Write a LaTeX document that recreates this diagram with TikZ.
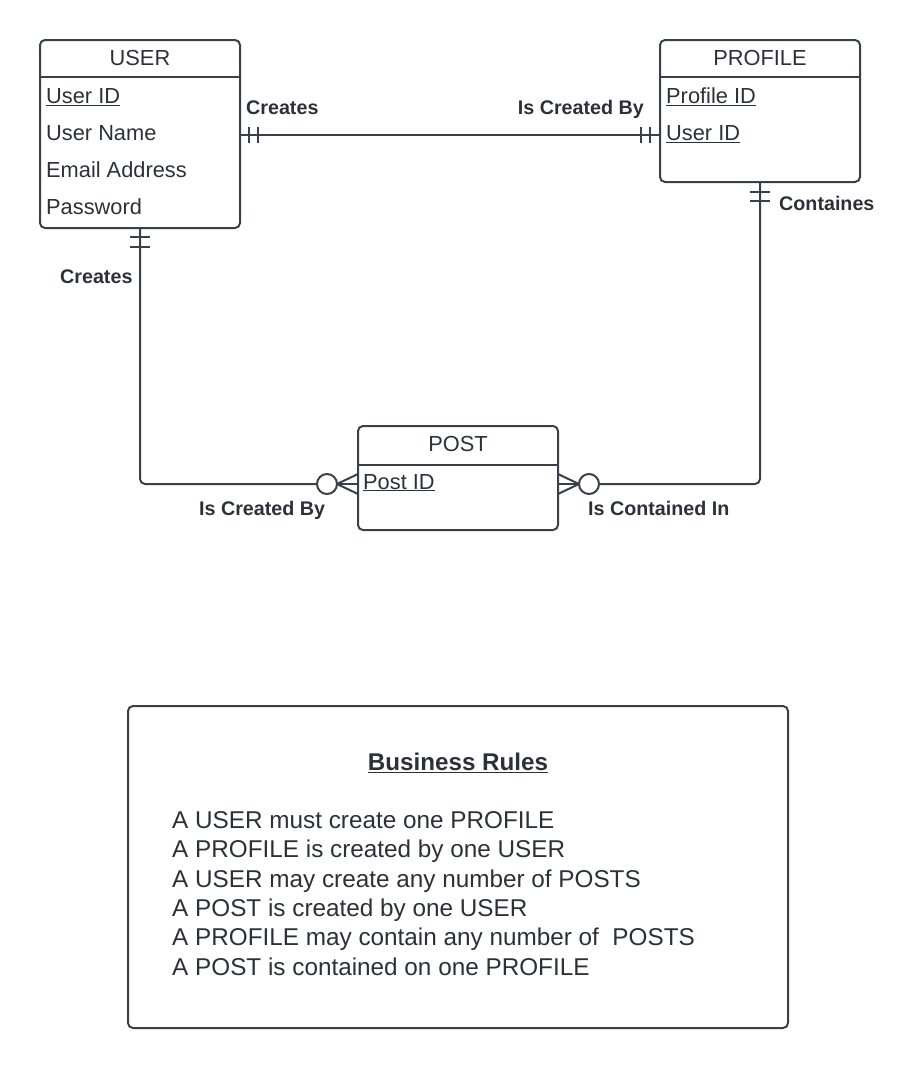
\documentclass[tikz,border=0pt]{standalone}
\usepackage{fontspec}
\setmainfont{Liberation Sans}
\usetikzlibrary{calc}
\definecolor{ln}{RGB}{58,64,72}
\definecolor{tx}{RGB}{44,48,56}
\begin{document}
\begin{tikzpicture}[x=1pt,y=-1pt,
  entity/.style={draw=ln, line width=2pt, rounded corners=5pt, minimum width=200pt, inner sep=0pt, outer sep=0pt, anchor=north west},
  hdr/.style={font=\fontsize{21.8}{26}\selectfont, text=tx, anchor=base, inner sep=0pt},
  fld/.style={font=\fontsize{21.8}{26}\selectfont, text=tx, anchor=base west, inner sep=0pt},
  rel/.style={font=\bfseries\fontsize{19.7}{23}\selectfont, text=tx, inner sep=0pt},
  rule/.style={font=\fontsize{24.3}{29}\selectfont, text=tx, anchor=base west, inner sep=0pt},
  conn/.style={draw=ln, line width=2pt},
  zero/.style={circle, draw=ln, line width=2pt, minimum size=20pt, inner sep=0pt, outer sep=0pt, fill=white},
  hline/.style={draw=ln, line width=2pt},
]
\path[use as bounding box] (0,0) rectangle (914,1068);

% USER entity
\node[entity, minimum height=188pt] (user) at (40,40) {};
\draw[hline] (40,77) -- (240,77);
\node[hdr] (userh) at (140,65.5) {USER};
\node[fld] (u1) at (46,103.5) {\underline{User ID}};
\node[fld] (u2) at (46,140.5) {User Name};
\node[fld] (u3) at (46,177.5) {Email Address};
\node[fld] (u4) at (46,214.5) {Password};

% PROFILE entity
\node[entity, minimum height=142pt] (profile) at (660,40) {};
\draw[hline] (660,77) -- (860,77);
\node[hdr] (profh) at (760,65.5) {PROFILE};
\node[fld] (p1) at (666,103.5) {\underline{Profile ID}};
\node[fld] (p2) at (666,140.5) {\underline{User ID}};

% POST entity
\node[entity, minimum height=104pt] (post) at (358,426) {};
\draw[hline] (358,465) -- (558,465);
\node[hdr] (posth) at (458,451) {POST};
\node[fld] (s1) at (363,489) {\underline{Post ID}};

% USER -- PROFILE (one and only one on both ends)
\coordinate (ue) at ($(user.east)+(0,1)$);
\draw[conn] (ue) -- (ue -| profile.west);
\draw[conn] ($(ue)+(9,-8)$) -- ++(0,16);
\draw[conn] ($(ue)+(18,-8)$) -- ++(0,16);
\draw[conn] ($(ue -| profile.west)+(-10,-8)$) -- ++(0,16);
\draw[conn] ($(ue -| profile.west)+(-19,-8)$) -- ++(0,16);
\node[rel, anchor=base west] (l1) at (246,114) {Creates};
\node[rel, anchor=base east] (l2) at (644,114) {Is Created By};

% USER -- POST
\coordinate (pw) at ($(post.north west)+(0,58)$);
\coordinate (pe) at ($(post.north east)+(0,58)$);
\node[zero] (c1) at ($(pw)+(-31,0)$) {};
\draw[conn, rounded corners=5pt] (user.south) |- (c1.west);
\draw[conn] ($(user.south)+(-10,9)$) -- ++(20,0);
\draw[conn] ($(user.south)+(-10,19)$) -- ++(20,0);
\draw[conn] (c1.east) -- ($(pw)+(0,-10)$);
\draw[conn] (c1.east) -- (pw);
\draw[conn] (c1.east) -- ($(pw)+(0,10)$);
\node[rel, anchor=base west] (l3) at (60,283) {Creates};
\node[rel, anchor=base west] (l4) at (199,515) {Is Created By};

% PROFILE -- POST
\node[zero] (c2) at ($(pe)+(31,0)$) {};
\draw[conn, rounded corners=5pt] (profile.south) |- (c2.east);
\draw[conn] ($(profile.south)+(-10,10)$) -- ++(20,0);
\draw[conn] ($(profile.south)+(-10,19)$) -- ++(20,0);
\draw[conn] (c2.west) -- ($(pe)+(0,-10)$);
\draw[conn] (c2.west) -- (pe);
\draw[conn] (c2.west) -- ($(pe)+(0,10)$);
\node[rel, anchor=base west] (l5) at (779,210) {Containes};
\node[rel, anchor=base west] (l6) at (588,515) {Is Contained In};

% Business rules
\node[entity, minimum width=660pt, minimum height=322pt] (rules) at (128,706) {};
\node[font=\bfseries\fontsize{24.2}{29}\selectfont, text=tx, anchor=base, inner sep=0pt] (rt) at (458,770.5) {\underline{Business Rules}};
\node[rule] (r1) at (172,828.5) {A USER must create one PROFILE};
\node[rule] (r2) at (172,857.8) {A PROFILE is created by one USER};
\node[rule] (r3) at (172,887.1) {A USER may create any number of POSTS};
\node[rule] (r4) at (172,916.4) {A POST is created by one USER};
\node[rule] (r5) at (172,945.7) {A PROFILE may contain any number of~ POSTS};
\node[rule] (r6) at (172,975) {A POST is contained on one PROFILE};
\end{tikzpicture}
\end{document}
